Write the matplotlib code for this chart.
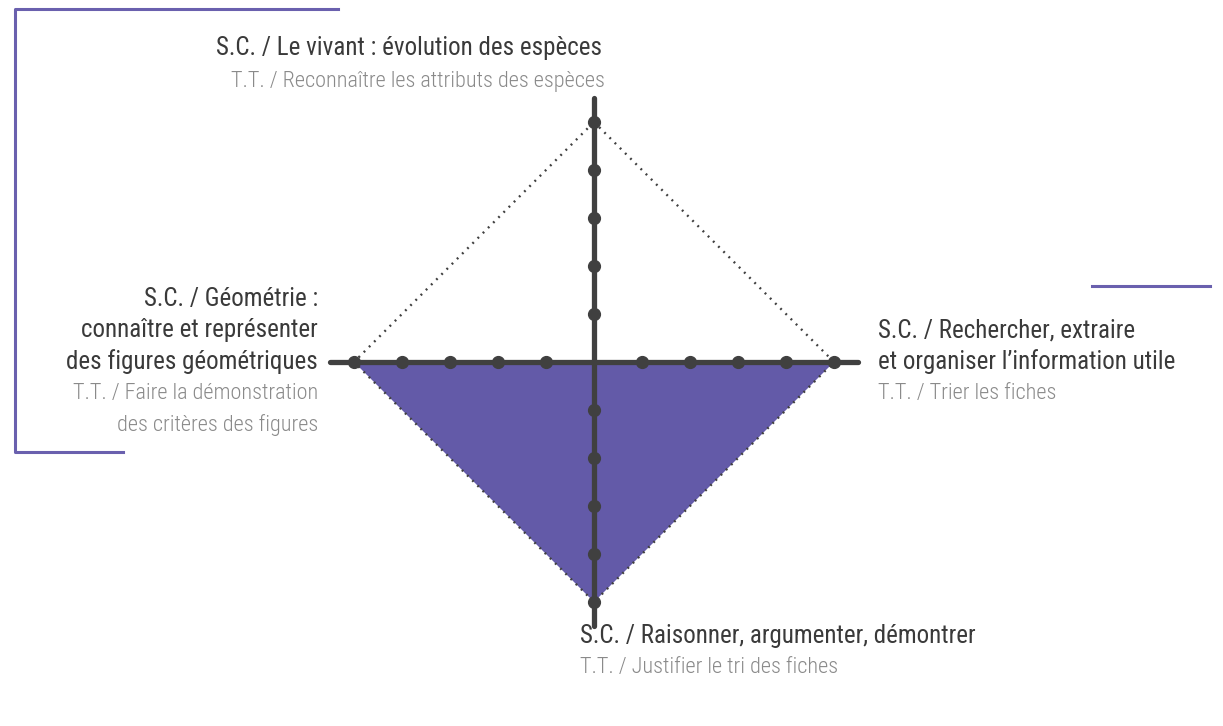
import numpy as np
import matplotlib
matplotlib.use("Agg")
import matplotlib.pyplot as plt
from matplotlib.lines import Line2D

plt.rcParams['font.family'] = ['Roboto Condensed', 'DejaVu Sans']

# axes of the diagram: top, right, bottom, left
angles = [90, 0, 270, 180]
values = [0, 5, 5, 5]
levels = [1, 2, 3, 4, 5]
max_level = 5
axis_len = 5.5

# labels: (lines of S.C., lines of T.T.)
labels_sc = [
    ["S.C. / Le vivant : évolution des espèces"],
    ["S.C. / Rechercher, extraire", "et organiser l\u2019information utile"],
    ["S.C. / Raisonner, argumenter, démontrer"],
    ["S.C. / Géométrie :", "connaître et représenter", "des figures géométriques"],
]
labels_tt = [
    ["T.T. / Reconnaître les attributs des espèces"],
    ["T.T. / Trier les fiches"],
    ["T.T. / Justifier le tri des fiches"],
    ["T.T. / Faire la démonstration", "des critères des figures"],
]

AXIS = '#404040'
FILL = '#635aa8'
FRAME = '#6a60ae'
DARK = '#3a3a3a'
GREY = '#8a8a8a'

W, H = 1223, 726
fig = plt.figure(figsize=(W / 100, H / 100), dpi=100)
ax = fig.add_axes([0, 0, 1, 1])
cx, cy, unit = 594, 362, 48  # centre in pixels, pixels per level
ax.set_xlim(-cx / unit, (W - cx) / unit)
ax.set_ylim(-(H - cy) / unit, cy / unit)
ax.axis('off')

rad = np.deg2rad(angles)
cos, sin = np.cos(rad), np.sin(rad)

# filled area
px = np.array(values) * cos
py = np.array(values) * sin
ax.fill(px, py, color=FILL, zorder=1, lw=0)

# dotted outline of the maximum level
ox = np.append(max_level * cos, max_level * cos[0])
oy = np.append(max_level * sin, max_level * sin[0])
ax.plot(ox, oy, color=AXIS, lw=1.7, ls=(0, (0.8, 2.3)), zorder=2)

# axes with their level dots
for c, s in zip(cos, sin):
    ax.plot([0, axis_len * c], [0, axis_len * s], color=AXIS, lw=3.8,
            solid_capstyle='round', zorder=3)
    lv = np.array(levels)
    ax.plot(lv * c, lv * s, 'o', color=AXIS, ms=8.5, zorder=4)


def fx(x):
    return x / W


def fy(y):
    return 1 - y / H


# label placement (pixels): x of S.C., x of T.T., first line y, line step, alignment
spots = [(602, 605, 48, 33, 'right'), (878, 878, 330, 31.5, 'left'),
         (580, 580, 636, 32, 'left'), (318, 318, 299, 31.5, 'right')]
for (xs, xt, y, step, ha), sc, tt in zip(spots, labels_sc, labels_tt):
    k = 0
    for line in sc:
        fig.text(fx(xs), fy(y + k * step), line, ha=ha, va='center', color=DARK,
                 fontsize=18)
        k += 1
    for line in tt:
        fig.text(fx(xt), fy(y + k * step), line, ha=ha, va='center', color=GREY,
                 fontsize=16, fontweight='light')
        k += 1

# purple frame lines
fig.add_artist(Line2D([fx(338), fx(15), fx(15), fx(123)], [fy(9), fy(9), fy(452), fy(452)],
                      color=FRAME, lw=2.2))
fig.add_artist(Line2D([fx(1092), fx(1210)], [fy(286), fy(286)], color=FRAME, lw=2.2))

fig.savefig('out.png', dpi=100)
